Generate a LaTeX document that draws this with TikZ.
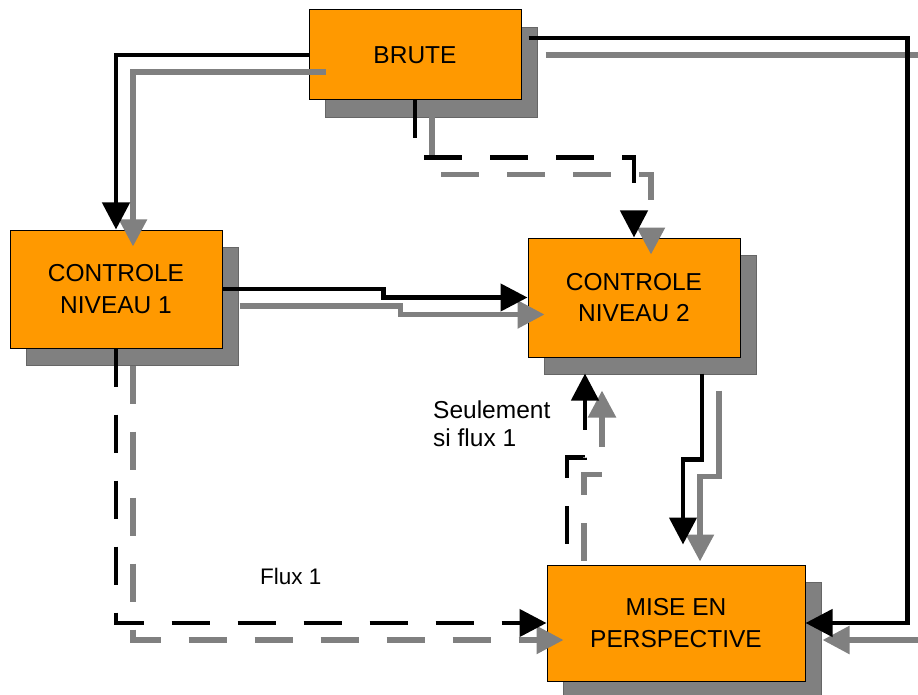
\documentclass[tikz,border=0pt]{standalone}
\usepackage{fontspec}
\setmainfont{Liberation Sans}
\usetikzlibrary{arrows.meta,shadows}
\definecolor{boxorange}{RGB}{255,153,0}

\begin{document}
\begin{tikzpicture}[x=1pt,y=-1pt,
  bloc/.style={draw,fill=boxorange,line width=1pt,align=center,inner sep=0pt,
    font=\fontsize{24.5}{31.5}\selectfont,
    general shadow={fill=black!50,draw=black!60,line width=0.8pt,
      shadow xshift=16pt,shadow yshift=-17pt}},
  wire/.style={line width=4.5pt,-{Triangle[length=27pt,width=27pt]}},
  tirets/.style={dash pattern=on 38pt off 28pt},
  ombre/.style={color=black!50,line width=5.5pt},
  plein/.style={color=black},
  lbl/.style={font=\fontsize{24.5}{28}\selectfont,align=left,inner sep=0pt}]
\useasboundingbox (0,0) rectangle (918,695);

\node[bloc,minimum width=212pt,minimum height=90pt] (brute) at (415,55) {BRUTE};
\node[bloc,minimum width=212pt,minimum height=118pt] (ctrlA) at (116,289) {CONTROLE\\NIVEAU 1};
\node[bloc,minimum width=212pt,minimum height=119pt] (ctrlB) at (634,297.5) {CONTROLE\\NIVEAU 2};
\node[bloc,minimum width=258pt,minimum height=116pt] (mise) at (676,623) {MISE EN\\PERSPECTIVE};

\node[lbl,anchor=base west] (seul) at (433,446) {Seulement\\si flux 1};
\node[lbl,font=\fontsize{22.5}{28}\selectfont,anchor=base west] (flux) at (260,584) {Flux 1};

% first pass draws the shadows, second one the black lines
\foreach \s/\look in {17/ombre,0/plein}{
  \draw[wire,\look] ([shift={(\s,\s)}]brute.west) -| ([shift={(\s,\s)}]ctrlA.north);
  \draw[wire,tirets,\look] ([shift={(\s,\s)}]brute.south) -- ++(0,57)
    -| ([shift={(\s,\s)}]ctrlB.north);
  \draw[wire,\look] ([shift={(7+\s,-17+\s)}]brute.east) -- ++(379,0)
    |- ([shift={(\s,\s)}]mise.east);
  \draw[wire,\look] ([shift={(\s,\s)}]ctrlA.east) -- ++(161,0)
    |- ([shift={(\s,\s)}]ctrlB.west);
  \draw[wire,tirets,\look] ([shift={(\s,\s)}]ctrlA.south) |- ([shift={(\s,\s)}]mise.west);
  \draw[wire,\look] ([shift={(68+\s,16+\s)}]ctrlB.south) -- ++(0,86)
    -| ([shift={(7+\s,-20+\s)}]mise.north);
  \draw[wire,tirets,dash phase=45pt,\look] ([shift={(-109+\s,\s)}]mise.north) -- ++(0,-107)
    -| ([shift={(-49+\s,16+\s)}]ctrlB.south);
}
\end{tikzpicture}
\end{document}
